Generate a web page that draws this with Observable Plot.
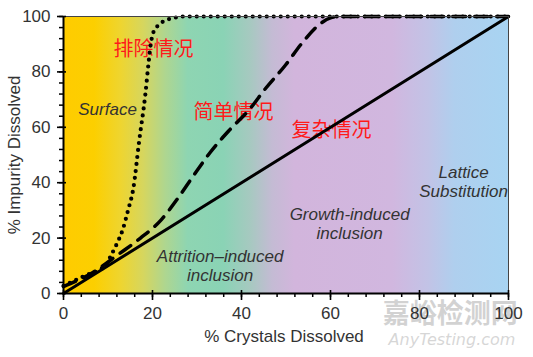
<!DOCTYPE html>
<html>
<head>
<meta charset="utf-8">
<script src="https://cdn.jsdelivr.net/npm/d3@7"></script>
<script src="https://cdn.jsdelivr.net/npm/@observablehq/plot@0.6"></script>
<style>
  html, body { margin: 0; padding: 0; background: #fff; }
  #chart svg { display: block; }
</style>
</head>
<body>
<div id="chart"></div>
<script>
// ---- data ----
const xDomain = [0, 100];
const yDomain = [0, 100];
const xTicks = [0, 20, 40, 60, 80, 100];
const yTicks = [0, 20, 40, 60, 80, 100];
const minorTicks = [0, 4, 8, 12, 16, 20, 24, 28, 32, 36, 40, 44, 48, 52, 56, 60, 64, 68, 72, 76, 80, 84, 88, 92, 96, 100];

// solid line (complex case)
const solidX = [0, 100];
const solidY = [0, 100];
// dashed line (simple case)
const dashX = [0, 6.5, 12.4, 17.3, 21.8, 25.8, 29.2, 33, 37.3, 41.8, 45.4, 49.9, 53.7, 57.8, 60, 62, 100];
const dashY = [2.5, 7.5, 14.2, 20, 26.3, 34.6, 42.5, 51, 59, 66.5, 74, 82.5, 90.6, 97.5, 99.5, 100, 100];
// dotted line (exclusion case)
const dotX = [0, 4.9, 9.4, 10.6, 12, 13.3, 14.5, 15.7, 17, 18.4, 19.1, 19.6, 20.2, 21.3, 22.9, 24.7, 26.5, 100];
const dotY = [2.8, 6.5, 10, 13.5, 18, 23, 30, 38, 55, 72, 83, 90, 94.3, 96.8, 98.6, 99.4, 100, 100];

// region annotations
const regionText = ["Surface", "Attrition–induced\ninclusion", "Growth-induced\ninclusion", "Lattice\nSubstitution"];
const regionX = [9.9, 35.2, 64.3, 89.9];
const regionY = [66.8, 10.3, 25.4, 40.6];

// Chinese red annotations
const cnText = ["排除情况", "简单情况", "复杂情况"];
const cnX = [20.2, 38.2, 60.2];
const cnY = [88, 65.3, 58.8];

// background gradient stops (position along x, colour)
const bgPos = [0, 7, 13, 18, 23, 28, 36, 42, 47, 52, 74, 82, 88, 100];
const bgCol = ["#FFCC00", "#FCCF00", "#EED530", "#D6D65E", "#AED690", "#8ED5B2", "#8AD3B5", "#A6C9C0", "#C4BBD4", "#D2B5DC", "#D1B7DF", "#C2C3E6", "#AFCFEE", "#A8D4F2"];

// watermark
const wmText = ["嘉峪检测网", "AnyTesting.com"];
const wmX = [86.9, 87.3];

const xTitle = "% Crystals Dissolved";
const yTitle = "% Impurity Dissolved";

// ---- tables ----
const toRows = (xs, ys) => xs.map((x, i) => ({x, y: ys[i]}));
const solid = toRows(solidX, solidY);
const dashed = toRows(dashX, dashY);
const dotted = toRows(dotX, dotY);
const regions = regionText.map((t, i) => ({t, x: regionX[i], y: regionY[i]}));
const cn = cnText.map((t, i) => ({t, x: cnX[i], y: cnY[i]}));
const bgRect = [{x1: xDomain[0], x2: xDomain[1], y1: yDomain[0], y2: yDomain[1]}];

const font = "'Liberation Sans', Arial, sans-serif";

const svg = Plot.plot({
  width: 533,
  height: 357,
  marginLeft: 63,
  marginRight: 25,
  marginTop: 16,
  marginBottom: 64,
  style: {fontFamily: font, fontSize: "17px", background: "transparent", overflow: "visible"},
  x: {domain: xDomain, label: null},
  y: {domain: yDomain, label: null},
  marks: [
    Plot.rect(bgRect, {x1: "x1", x2: "x2", y1: "y1", y2: "y2", fill: "#fefefd", ariaDescription: "bgrect"}),
    // watermark
    Plot.text([wmText[0]], {x: wmX[0], y: yDomain[0], dy: 21, text: d => d, fontFamily: "'Noto Sans CJK SC', sans-serif", fontSize: 27, fontWeight: 700, fill: "#c4c4c4", fillOpacity: 0.75}),
    Plot.text([wmText[1]], {x: wmX[1], y: yDomain[0], dy: 46, text: d => d, fontFamily: "'DejaVu Sans', sans-serif", fontStyle: "italic", fontSize: 16, fill: "#cfcfcf", fillOpacity: 0.85}),
    // annotations
    Plot.text(regions, {x: "x", y: "y", text: "t", fontStyle: "italic", fontSize: 17, fill: "#333", lineHeight: 1.12}),
    Plot.text(cn, {x: "x", y: "y", text: "t", fontFamily: "'Noto Sans CJK SC', serif", fontSize: 20, fill: "#ff1a1a"}),
    // curves
    Plot.line(solid, {x: "x", y: "y", stroke: "black", strokeWidth: 3}),
    Plot.line(dashed, {x: "x", y: "y", curve: "monotone-x", stroke: "black", strokeWidth: 3.5, strokeDasharray: "13,9"}),
    Plot.line(dotted, {x: "x", y: "y", curve: "monotone-x", stroke: "black", strokeWidth: 4.2, strokeLinecap: "round", strokeDasharray: "0,7"}),
    // frame + axes
    Plot.frame({stroke: "#444", strokeWidth: 1}),
    Plot.ruleX([xDomain[0]], {stroke: "black", strokeWidth: 2}),
    Plot.ruleY([yDomain[0]], {stroke: "black", strokeWidth: 2}),
    Plot.axisX({ticks: minorTicks, tickSize: 4, tickFormat: () => "", stroke: "black", strokeWidth: 1.5, label: null}),
    Plot.axisY({ticks: minorTicks, tickSize: 4, tickFormat: () => "", stroke: "black", strokeWidth: 1.5, label: null}),
    Plot.axisX({ticks: xTicks, tickSize: 10, dy: -3, tickPadding: 6, fontSize: 17, stroke: "black", fill: "#333", strokeWidth: 1.6, label: null}),
    Plot.axisY({ticks: yTicks, tickSize: 9, dx: 3, tickPadding: 7, fontSize: 17, stroke: "black", fill: "#333", strokeWidth: 1.6, label: null}),
    // axis titles
    Plot.text([xTitle], {frameAnchor: "bottom", textAnchor: "middle", lineAnchor: "middle", dx: -2, dy: 43, text: d => d, fontSize: 17, fill: "#333"}),
    Plot.text([yTitle], {frameAnchor: "left", textAnchor: "middle", lineAnchor: "middle", dx: -49, rotate: -90, text: d => d, fontSize: 17, fill: "#333"})
  ]
});

// gradient background
const defs = d3.select(svg).insert("defs", ":first-child");
const grad = defs.append("linearGradient").attr("id", "bggrad")
  .attr("x1", "0").attr("x2", "1").attr("y1", "0").attr("y2", "0");
bgPos.forEach((p, i) => grad.append("stop").attr("offset", p / 100).attr("stop-color", bgCol[i]));
d3.select(svg).selectAll('g[aria-description="bgrect"], g[fill="#fefefd"]').attr("fill", "url(#bggrad)")
  .selectAll("rect").attr("fill", "url(#bggrad)");

document.getElementById("chart").appendChild(svg);
</script>
</body>
</html>
